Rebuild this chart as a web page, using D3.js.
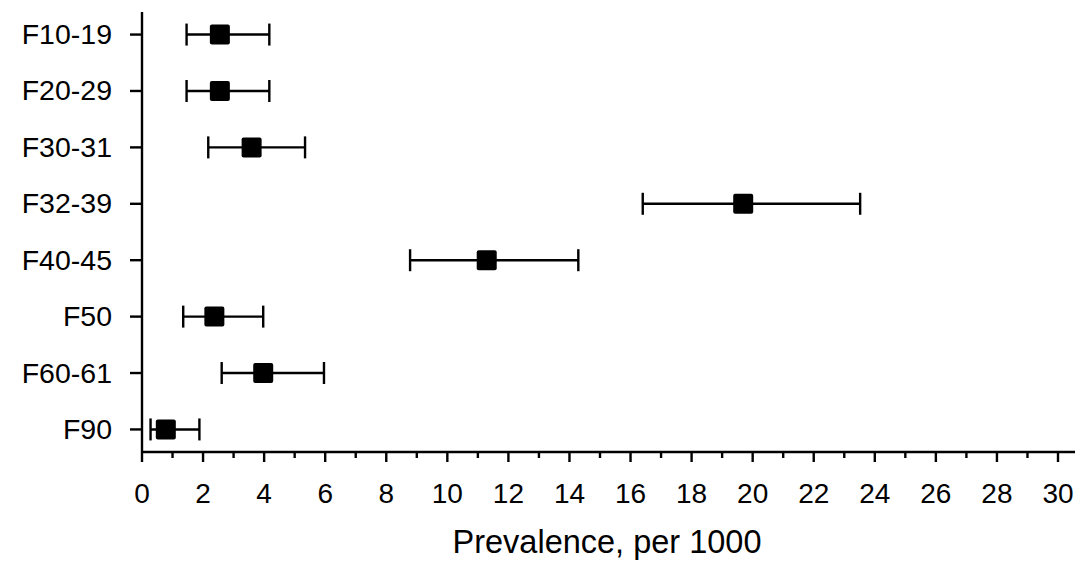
<!DOCTYPE html>
<html>
<head>
<meta charset="utf-8">
<script src="https://d3js.org/d3.v7.min.js"></script>
<style>
body { margin: 0; background: #fff; }
text { font-family: "Liberation Sans", Arial, sans-serif; fill: #000; }
</style>
</head>
<body>
<script>
var w = 1084;
var h = 571;

var categories = ["F10-19", "F20-29", "F30-31", "F32-39", "F40-45", "F50", "F60-61", "F90"];
var prevalence = [2.55, 2.55, 3.59, 19.69, 11.29, 2.37, 3.97, 0.78];
var lower = [1.46, 1.46, 2.17, 16.40, 8.78, 1.35, 2.61, 0.28];
var upper = [4.17, 4.17, 5.34, 23.52, 14.29, 3.97, 5.96, 1.88];
var xTicks = d3.range(0, 31, 2);
var xMinor = d3.range(1, 30, 2);

var dataset = categories.map(function(c, i) {
    return {cat: c, v: prevalence[i], lo: lower[i], hi: upper[i]};
});

var x0 = 142, x1 = 1075, yTop = 12, yBottom = 452;
var sw = 2.4;

var xScale = d3.scaleLinear()
    .domain([0, 30])
    .range([x0, 1058]);

var yScale = d3.scalePoint()
    .domain(categories)
    .range([yTop, yBottom])
    .padding(0.4);

var svg = d3.select("body")
    .append("svg")
    .attr("width", w)
    .attr("height", h);

// axes lines
svg.append("line")
    .attr("x1", x0).attr("x2", x0)
    .attr("y1", yTop).attr("y2", yBottom)
    .attr("stroke", "#000").attr("stroke-width", sw);
svg.append("line")
    .attr("x1", x0 - 1).attr("x2", x1)
    .attr("y1", yBottom).attr("y2", yBottom)
    .attr("stroke", "#000").attr("stroke-width", sw);

// x ticks
svg.selectAll(".xmajor")
    .data(xTicks)
    .enter()
    .append("line")
    .attr("x1", function(d) { return xScale(d); })
    .attr("x2", function(d) { return xScale(d); })
    .attr("y1", yBottom).attr("y2", yBottom + 10)
    .attr("stroke", "#000").attr("stroke-width", sw);
svg.selectAll(".xminor")
    .data(xMinor)
    .enter()
    .append("line")
    .attr("x1", function(d) { return xScale(d); })
    .attr("x2", function(d) { return xScale(d); })
    .attr("y1", yBottom).attr("y2", yBottom + 6)
    .attr("stroke", "#000").attr("stroke-width", sw);
svg.selectAll(".xlabel")
    .data(xTicks)
    .enter()
    .append("text")
    .attr("x", function(d) { return xScale(d); })
    .attr("y", 503)
    .attr("text-anchor", "middle")
    .attr("font-size", "28px")
    .text(function(d) { return d; });

// y ticks and labels
svg.selectAll(".ytick")
    .data(categories)
    .enter()
    .append("line")
    .attr("x1", x0 - 12).attr("x2", x0)
    .attr("y1", function(d) { return yScale(d); })
    .attr("y2", function(d) { return yScale(d); })
    .attr("stroke", "#000").attr("stroke-width", sw);
svg.selectAll(".ylabel")
    .data(categories)
    .enter()
    .append("text")
    .attr("x", 112)
    .attr("y", function(d) { return yScale(d) + 9.5; })
    .attr("text-anchor", "end")
    .attr("font-size", "28.5px")
    .text(function(d) { return d; });

// error bars
var g = svg.selectAll(".pt")
    .data(dataset)
    .enter()
    .append("g");
g.append("line")
    .attr("x1", function(d) { return xScale(d.lo); })
    .attr("x2", function(d) { return xScale(d.hi); })
    .attr("y1", function(d) { return yScale(d.cat); })
    .attr("y2", function(d) { return yScale(d.cat); })
    .attr("stroke", "#000").attr("stroke-width", sw);
g.append("line")
    .attr("x1", function(d) { return xScale(d.lo); })
    .attr("x2", function(d) { return xScale(d.lo); })
    .attr("y1", function(d) { return yScale(d.cat) - 11; })
    .attr("y2", function(d) { return yScale(d.cat) + 11; })
    .attr("stroke", "#000").attr("stroke-width", sw);
g.append("line")
    .attr("x1", function(d) { return xScale(d.hi); })
    .attr("x2", function(d) { return xScale(d.hi); })
    .attr("y1", function(d) { return yScale(d.cat) - 11; })
    .attr("y2", function(d) { return yScale(d.cat) + 11; })
    .attr("stroke", "#000").attr("stroke-width", sw);
g.append("rect")
    .attr("x", function(d) { return xScale(d.v) - 10; })
    .attr("y", function(d) { return yScale(d.cat) - 10; })
    .attr("width", 20)
    .attr("height", 20)
    .attr("rx", 2)
    .attr("fill", "#000");

// axis title
svg.append("text")
    .attr("x", 607)
    .attr("y", 553)
    .attr("text-anchor", "middle")
    .attr("font-size", "32.5px")
    .text("Prevalence, per 1000");
</script>
</body>
</html>
